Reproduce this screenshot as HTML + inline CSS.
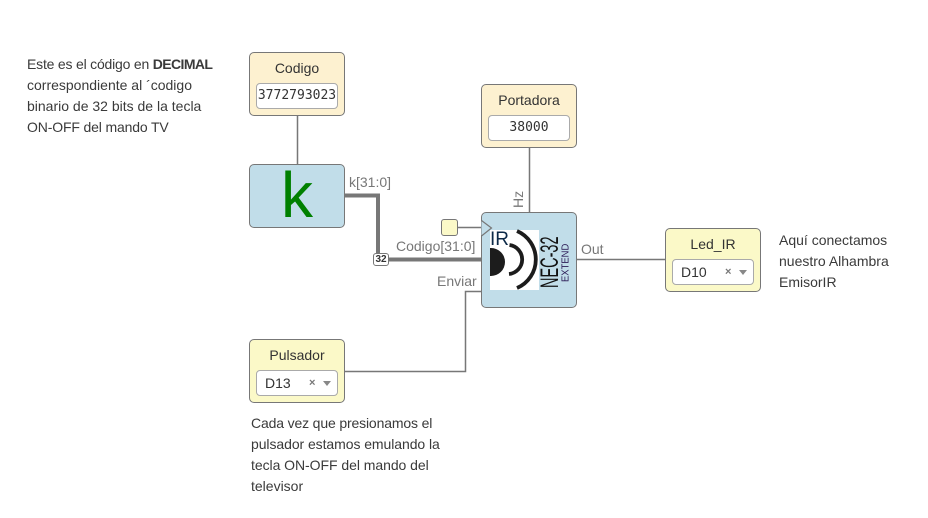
<!DOCTYPE html>
<html><head><meta charset="utf-8"><style>
html,body{margin:0;padding:0;background:#fff}
#c{position:relative;width:928px;height:518px;overflow:hidden;font-family:"Liberation Sans",sans-serif;color:#333}
.b{position:absolute;box-sizing:border-box;width:96px;height:64px;border:1px solid #777;border-radius:5px}
.t{position:absolute;left:0;width:100%;top:7px;text-align:center;font-size:14px;line-height:17px;color:#333}
.i{position:absolute;left:6px;top:30px;width:82px;height:26px;box-sizing:border-box;background:#fff;border:1px solid #aaa;border-radius:4px;text-align:center;font:13px/24px "DejaVu Sans Mono",monospace;color:#333}
.s{font:14px/24px "Liberation Sans",sans-serif;text-align:left;padding-left:8px}
.s u{position:absolute;text-decoration:none;left:52px;top:0;font-size:11px;color:#777;font-weight:bold}
.s i{position:absolute;left:66px;top:10px;border:4.5px solid transparent;border-top:5px solid #888;border-bottom:0}
.n{position:absolute;font-size:14px;line-height:21px;color:#3a3a3a;white-space:nowrap}
.n span{display:block;height:21px}
.l{position:absolute;font-size:14px;line-height:16px;color:#777;white-space:nowrap}
</style></head><body><div id="c">
<svg width="928" height="518" style="position:absolute;left:0;top:0">
<g fill="none" stroke="#777" stroke-width="1.5">
<path d="M297.5 115V164M529.5 148V212M577 259.5H665M345 371.5H465.5V291.5H481M458 227.5H481"/>
</g>
<g fill="none" stroke="#777" stroke-width="4">
<path d="M345 195.5H378V259.5H481"/>
</g>
</svg>

<div class="b" style="left:249px;top:52px;background:#fdf1d0"><div class="t">Codigo</div><div class="i">3772793023</div></div>
<div class="b" style="left:481px;top:84px;background:#fdf1d0"><div class="t">Portadora</div><div class="i">38000</div></div>
<div class="b" style="left:249px;top:164px;background:#c1dde9"><div style="position:absolute;left:0;width:100%;top:-7px;text-align:center;font-size:64px;line-height:74px;color:#008000">k</div></div>

<div style="position:absolute;left:441px;top:219px;width:17px;height:17px;box-sizing:border-box;background:#fbf9c8;border:1px solid #777;border-radius:3px"></div>

<div class="b" style="left:481px;top:212px;height:96px;background:#c1dde9"></div>
<svg width="928" height="518" style="position:absolute;left:0;top:0">
<path d="M481.500 220.500L491.500 228L481.500 236" fill="#c1dde9" stroke="#777" stroke-width="1.200"/>
<rect x="490" y="230" width="49" height="60" fill="#fff"/>
<path d="M490 248H491A14 14 0 0 1 491 276H490Z" fill="#1c1c1c"/>
<g fill="none" stroke="#1c1c1c">
<path d="M509.500 245A14.600 14.600 0 0 1 509 274" stroke-width="3.800"/>
<path d="M517 231A31 31 0 0 1 517 288" stroke-width="3.800"/>
</g>
<text x="490" y="245" font-family="Liberation Sans" font-size="19" fill="#0d2a48">IR</text>
<text transform="translate(558 288) rotate(-90) scale(.58 1)" font-family="Liberation Sans" font-size="25" fill="#111">NEC-32</text>
<text transform="translate(568.500 282) rotate(-90) scale(.9 1)" font-family="Liberation Sans" font-size="10.500" fill="#2b1a55">EXTEND</text>
<text transform="translate(523 208) rotate(-90)" font-family="Liberation Sans" font-size="14" fill="#777">Hz</text>
</svg>

<div class="l" style="left:349px;top:174px">k[31:0]</div>
<div class="l" style="left:396px;top:238px">Codigo[31:0]</div>
<div class="l" style="left:437px;top:273px">Enviar</div>
<div class="l" style="left:581px;top:241px">Out</div>

<div style="position:absolute;left:373px;top:253px;width:16px;height:13px;box-sizing:border-box;background:#fff;border:1px solid #777;border-radius:3px;font:bold 10px/11px 'Liberation Sans',sans-serif;text-align:center;color:#333">32</div>

<div class="b" style="left:665px;top:228px;background:#fbf9c8"><div class="t">Led_IR</div><div class="i s">D10<u>×</u><i></i></div></div>
<div class="b" style="left:249px;top:339px;background:#fbf9c8"><div class="t">Pulsador</div><div class="i s">D13<u>×</u><i></i></div></div>

<div class="n" style="left:27px;top:54px"><span style="letter-spacing:-.2px">Este es el código en <b style="letter-spacing:-.6px">DECIMAL</b></span><span>correspondiente al ´codigo</span><span>binario de 32 bits de la tecla</span><span style="letter-spacing:-.15px">ON-OFF del mando TV</span></div>
<div class="n" style="left:779px;top:230px">Aquí conectamos<br>nuestro Alhambra<br>EmisorIR</div>
<div class="n" style="left:251px;top:413px"><span style="letter-spacing:-.15px">Cada vez que presionamos el</span><span style="letter-spacing:-.07px">pulsador estamos emulando la</span><span style="letter-spacing:-.05px">tecla ON-OFF del mando del</span><span>televisor</span></div>
</div></body></html>
